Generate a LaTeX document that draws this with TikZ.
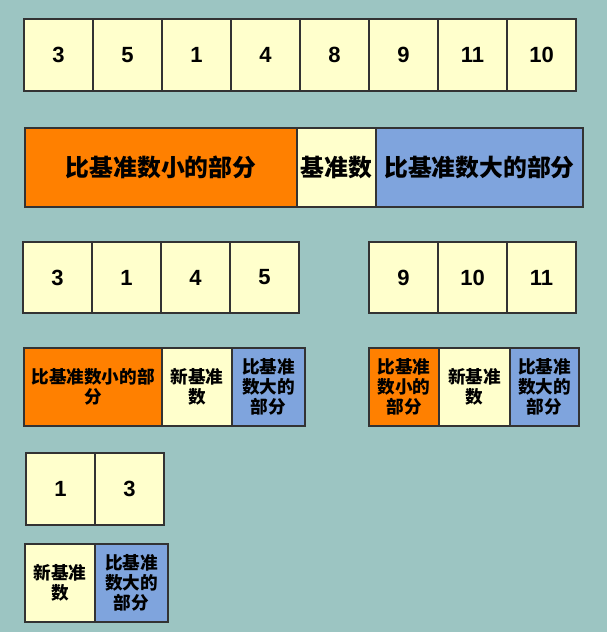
\documentclass[tikz,border=0pt]{standalone}
\usepackage{fontspec}
\setmainfont{Liberation Sans}
\newfontfamily\cjk{Noto Sans CJK SC}
\usetikzlibrary{backgrounds}
\definecolor{slate}{HTML}{9CC5C2}
\definecolor{cream}{HTML}{FFFFCC}
\definecolor{lowpart}{HTML}{FF8000}
\definecolor{highpart}{HTML}{7FA4DD}
\newcommand{\cellw}{69}
\newcommand{\numh}{72}
\newcommand{\parth}{78}
\newcommand{\bigcjk}{\cjk\bfseries\fontsize{23.8}{26}\selectfont}
\newcommand{\smallcjk}{\cjk\bfseries\fontsize{17.6}{20}\selectfont}

\begin{document}
\begin{tikzpicture}[x=1pt,y=-1pt,
    cell/.style={draw=black!80,line width=1.3pt,anchor=north west,
      inner sep=0pt,outer sep=0pt,align=center},
    numcell/.style={cell,fill=cream,minimum width=\cellw pt,
      minimum height=\numh pt,font=\bfseries\fontsize{22}{22}\selectfont},
    lowcell/.style={cell,fill=lowpart},
    pivotcell/.style={cell,fill=cream},
    highcell/.style={cell,fill=highpart}]
    \fill[slate] (0,0) rectangle (607,632);
    \useasboundingbox (0,0) rectangle (607,632);

    % whole array
    \foreach \v [count=\i] in {3,5,1,4,8,9,11,10}
      \node[numcell] (top\i) at ({24+(\i-1)*\cellw},19) {\v};

    % first split
    \node[lowcell,minimum width=272pt,minimum height=79pt,font=\bigcjk]
      (low) at (25,128) {比基准数小的部分};
    \node[pivotcell,minimum width=79pt,minimum height=79pt,font=\bigcjk]
      (pivot) at (low.north east) {基准数};
    \node[highcell,minimum width=207pt,minimum height=79pt,font=\bigcjk]
      (high) at (pivot.north east) {比基准数大的部分};

    % two halves
    \foreach \v [count=\i] in {3,1,4,5}
      \node[numcell,minimum height=71pt] (left\i) at ({23+(\i-1)*\cellw},242) {\v};
    \foreach \v [count=\i] in {9,10,11}
      \node[numcell,minimum height=71pt] (right\i) at ({369+(\i-1)*\cellw},242) {\v};

    % second split, left half
    \node[lowcell,minimum width=138pt,minimum height=\parth pt,font=\smallcjk]
      (leftlow) at (24,348) {比基准数小的部\\分};
    \node[pivotcell,minimum width=70pt,minimum height=\parth pt,font=\smallcjk]
      (leftpivot) at (leftlow.north east) {新基准\\数};
    \node[highcell,minimum width=73pt,minimum height=\parth pt,font=\smallcjk]
      (lefthigh) at (leftpivot.north east) {比基准\\数大的\\部分};

    % second split, right half
    \node[lowcell,minimum width=70pt,minimum height=\parth pt,font=\smallcjk]
      (rightlow) at (369,348) {比基准\\数小的\\部分};
    \node[pivotcell,minimum width=71pt,minimum height=\parth pt,font=\smallcjk]
      (rightpivot) at (rightlow.north east) {新基准\\数};
    \node[highcell,minimum width=69pt,minimum height=\parth pt,font=\smallcjk]
      (righthigh) at (rightpivot.north east) {比基准\\数大的\\部分};

    % last pair
    \foreach \v [count=\i] in {1,3}
      \node[numcell] (last\i) at ({26+(\i-1)*\cellw},453) {\v};
    \node[pivotcell,minimum width=70pt,minimum height=\parth pt,font=\smallcjk]
      (lastpivot) at (25,544) {新基准\\数};
    \node[highcell,minimum width=73pt,minimum height=\parth pt,font=\smallcjk]
      (lasthigh) at (lastpivot.north east) {比基准\\数大的\\部分};
\end{tikzpicture}
\end{document}
